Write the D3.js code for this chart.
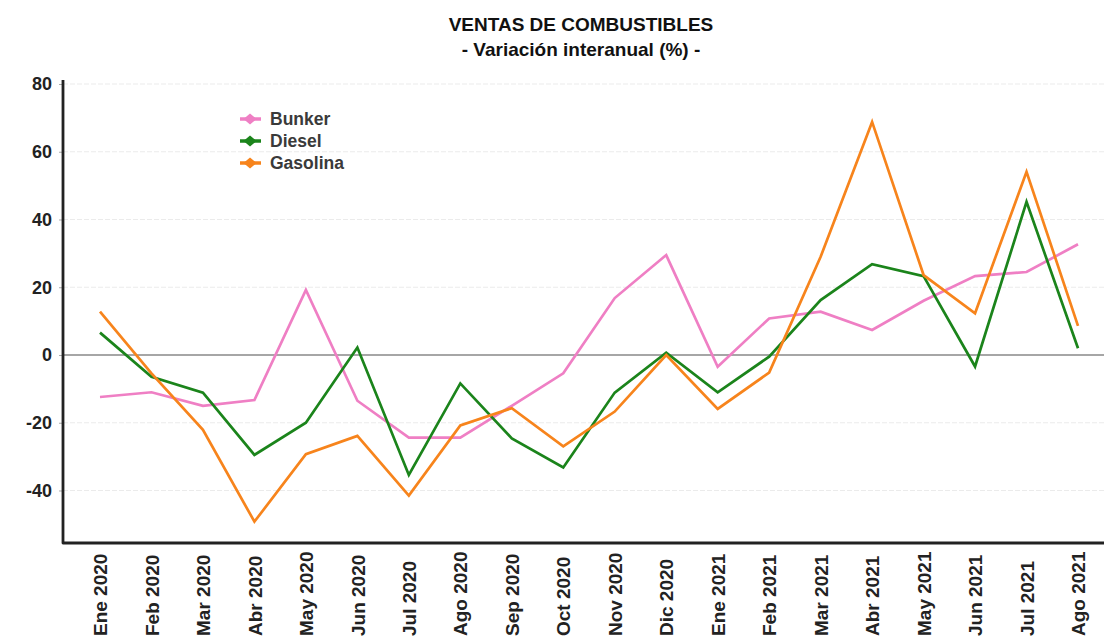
<!DOCTYPE html>
<html>
<head>
<meta charset="utf-8">
<script src="https://cdn.jsdelivr.net/npm/d3@7"></script>
<style>
  body { margin: 0; background: #fff; }
  svg { font-family: "Liberation Sans", Arial, sans-serif; }
</style>
</head>
<body>
<svg id="chart" width="1104" height="639"></svg>
<script>
// months on the x axis
const months = ["Ene 2020", "Feb 2020", "Mar 2020", "Abr 2020", "May 2020", "Jun 2020", "Jul 2020",
  "Ago 2020", "Sep 2020", "Oct 2020", "Nov 2020", "Dic 2020", "Ene 2021", "Feb 2021", "Mar 2021",
  "Abr 2021", "May 2021", "Jun 2021", "Jul 2021", "Ago 2021"];

const bunker = [-12.4, -11, -15, -13.3, 19.2, -13.5, -24.4, -24.4, -15, -5.4, 16.8, 29.5, -3.5, 10.8, 12.8, 7.4, 16, 23.3, 24.5, 32.7];
const diesel = [6.6, -6.4, -11.1, -29.5, -20, 2.2, -35.4, -8.4, -24.6, -33.2, -11.1, 0.7, -11, -0.5, 16.2, 26.8, 23.3, -3.4, 45.2, 2];
const gasolina = [12.8, -5.4, -22.1, -49.2, -29.3, -23.9, -41.5, -20.8, -15.7, -27, -16.7, 0, -15.9, -5.2, 29, 68.8, 23.6, 12.3, 54.1, 8.6];

const yTicks = [-40, -20, 0, 20, 40, 60, 80];

const series = [
  {name: "Bunker", values: bunker, color: "#ef7fc4"},
  {name: "Diesel", values: diesel, color: "#1b841b"},
  {name: "Gasolina", values: gasolina, color: "#f7841c"}
];

const svg = d3.select("#chart");
const plotLeft = 63, plotRight = 1104, plotTop = 84, plotBottom = 543;

const x = d3.scalePoint()
  .domain(months)
  .range([100, 1078]);

const y = d3.scaleLinear()
  .domain([-55.5, 80])
  .range([plotBottom, plotTop]);

// titles
svg.append("text")
  .attr("x", 581).attr("y", 31)
  .attr("text-anchor", "middle")
  .attr("font-size", 19).attr("font-weight", "bold").attr("fill", "#111")
  .text("VENTAS DE COMBUSTIBLES");
svg.append("text")
  .attr("x", 581).attr("y", 56)
  .attr("text-anchor", "middle")
  .attr("font-size", 19).attr("font-weight", "bold").attr("fill", "#111")
  .text("- Variación interanual (%) -");

// gridlines
svg.append("g")
  .selectAll("line")
  .data(yTicks.filter(d => d !== 0))
  .join("line")
  .attr("x1", plotLeft).attr("x2", plotRight)
  .attr("y1", d => y(d)).attr("y2", d => y(d))
  .attr("stroke", "#ebebeb")
  .attr("stroke-width", 1.2)
  .attr("stroke-dasharray", "5,2");

// zero line
svg.append("line")
  .attr("x1", plotLeft).attr("x2", plotRight)
  .attr("y1", y(0)).attr("y2", y(0))
  .attr("stroke", "#888").attr("stroke-width", 1.3);

// y axis (plain hyphen for negatives, like the original)
const yAxis = svg.append("g")
  .attr("transform", `translate(${plotLeft},0)`)
  .call(d3.axisLeft(y).tickValues(yTicks).tickFormat(d => String(d)).tickSize(4).tickPadding(7));
yAxis.select(".domain").remove();
yAxis.selectAll(".tick line").attr("stroke", "#aaa");
yAxis.selectAll("text")
  .attr("font-size", 18).attr("font-weight", "bold").attr("fill", "#222")
  .style("font-family", "Liberation Sans, Arial, sans-serif");

// x axis
const xAxis = svg.append("g")
  .attr("transform", `translate(0,${plotBottom})`)
  .call(d3.axisBottom(x).tickSize(0).tickPadding(0));
xAxis.select(".domain").remove();
xAxis.selectAll("text")
  .attr("transform", "rotate(-90)")
  .attr("x", -93).attr("y", 0).attr("dy", "0.35em")
  .attr("text-anchor", "start")
  .attr("font-size", 19).attr("font-weight", "bold").attr("fill", "#222")
  .style("font-family", "Liberation Sans, Arial, sans-serif");

// axis frame
svg.append("path")
  .attr("d", `M${plotLeft},${plotTop - 4} L${plotLeft},${plotBottom} L${plotRight},${plotBottom}`)
  .attr("fill", "none")
  .attr("stroke", "#222")
  .attr("stroke-width", 2.8)
  .attr("stroke-linejoin", "round");

// lines
const line = d3.line()
  .x((d, i) => x(months[i]))
  .y(d => y(d));

svg.append("g")
  .selectAll("path")
  .data(series)
  .join("path")
  .attr("d", d => line(d.values))
  .attr("fill", "none")
  .attr("stroke", d => d.color)
  .attr("stroke-width", 2.7)
  .attr("stroke-linejoin", "miter");

// legend
const legend = svg.append("g")
  .attr("transform", "translate(250,119)")
  .selectAll("g")
  .data(series)
  .join("g")
  .attr("transform", (d, i) => `translate(0,${i * 22})`);

legend.append("line")
  .attr("x1", -10).attr("x2", 11)
  .attr("stroke", d => d.color).attr("stroke-width", 3.5);
legend.append("path")
  .attr("d", "M0,-5.5 L6.5,0 L0,5.5 L-6.5,0 Z")
  .attr("fill", d => d.color);
legend.append("text")
  .attr("x", 20).attr("dy", "0.35em")
  .attr("font-size", 17.5).attr("font-weight", "bold").attr("fill", "#3a3a3a")
  .text(d => d.name);
</script>
</body>
</html>
